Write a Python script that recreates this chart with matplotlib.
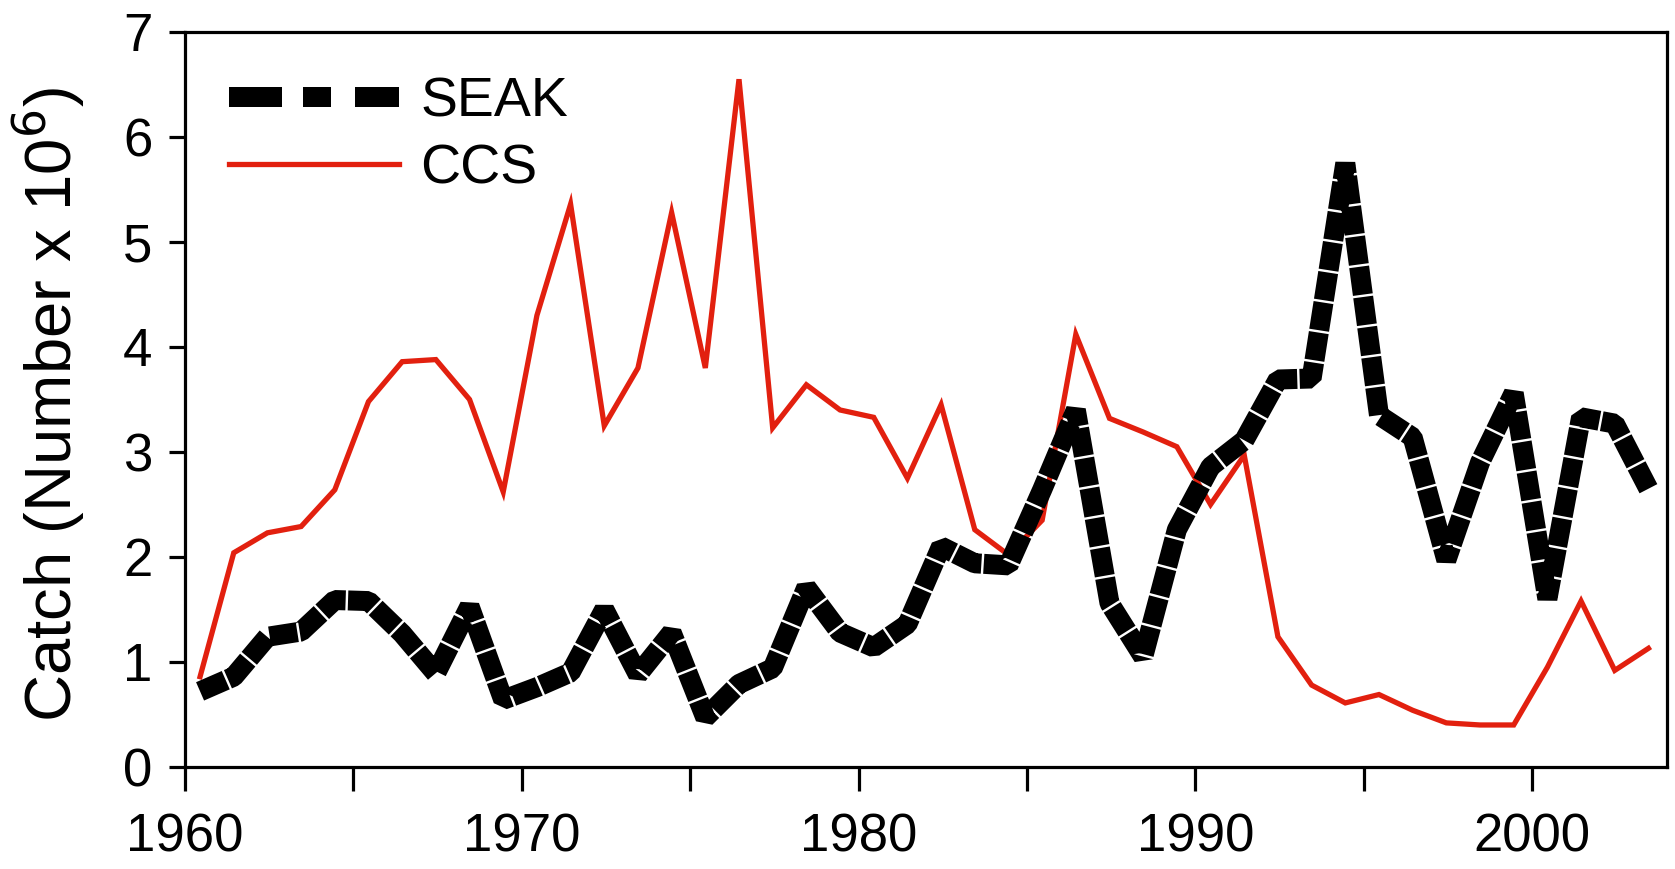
import numpy as np
import matplotlib
matplotlib.use("Agg")
import matplotlib.pyplot as plt
from matplotlib.lines import Line2D

plt.rcParams['font.family'] = ['Liberation Sans', 'DejaVu Sans']

# catch per year, millions of fish
years = np.arange(1960, 2004)
seak = [0.72, 0.86, 1.24, 1.29, 1.59, 1.58, 1.27, 0.89, 1.53, 0.64,
        0.76, 0.90, 1.50, 0.88, 1.28, 0.47, 0.79, 0.94, 1.71, 1.28,
        1.14, 1.36, 2.10, 1.94, 1.92, 2.64, 3.40, 1.56, 1.05, 2.26,
        2.86, 3.11, 3.69, 3.70, 5.75, 3.35, 3.14, 1.97, 2.90, 3.56,
        1.60, 3.33, 3.27, 2.65]
ccs = [0.86, 2.04, 2.23, 2.29, 2.64, 3.48, 3.86, 3.88, 3.50, 2.62,
       4.30, 5.36, 3.25, 3.80, 5.28, 3.80, 6.55, 3.23, 3.64, 3.40,
       3.33, 2.75, 3.45, 2.26, 2.02, 2.35, 4.12, 3.32, 3.19, 3.05,
       2.50, 2.97, 1.24, 0.78, 0.61, 0.69, 0.54, 0.42, 0.40, 0.40,
       0.95, 1.58, 0.92, 1.13]

xtick_pos = np.arange(1960, 2005, 5)
xtick_lab = ['1960', '', '1970', '', '1980', '', '1990', '', '2000']
ytick_pos = np.arange(0, 8)

RED = '#e2200f'

fig = plt.figure(figsize=(16.75, 8.69), dpi=100)
ax = fig.add_axes([0.1104, 0.1174, 0.8848, 0.8458])

# yearly totals sit a little right of the year tick
xpos = years + 0.45

ax.plot(xpos, ccs, color=RED, lw=3.8, solid_joinstyle='miter', zorder=2)
ax.plot(xpos, seak, color='black', lw=14.4, dashes=(1.4, 0.12),
        dash_capstyle='butt', dash_joinstyle='bevel', zorder=3)

ax.set_xlim(1960, 2004)
ax.set_ylim(0, 7)
ax.set_xticks(xtick_pos)
ax.set_xticklabels(xtick_lab)
ax.set_yticks(ytick_pos)

for side in ['left', 'right', 'top', 'bottom']:
    ax.spines[side].set_linewidth(2.3)
    ax.spines[side].set_color('black')

ax.tick_params(axis='y', direction='out', length=11.5, width=2.3,
               labelsize=38, pad=12)
ax.tick_params(axis='x', direction='out', length=17, width=2.3,
               labelsize=38, pad=16)

ax.set_ylabel('Catch (Number x 10$^6$)', fontsize=47)
ax.yaxis.set_label_coords(-0.066, 0.4925)

seak_handle = Line2D([], [], color='black', lw=14.4,
                     dashes=(2.65, 1.05, 1.4, 1.2), dash_capstyle='butt')
ccs_handle = Line2D([], [], color=RED, lw=3.8)
ax.legend([seak_handle, ccs_handle], ['SEAK', 'CCS'],
          loc='upper left', bbox_to_anchor=(0.0297, 0.94),
          frameon=False, fontsize=40, handlelength=3.06,
          handletextpad=0.38, labelspacing=0.28,
          borderaxespad=0, borderpad=0)

fig.savefig('out.png', dpi=100)
